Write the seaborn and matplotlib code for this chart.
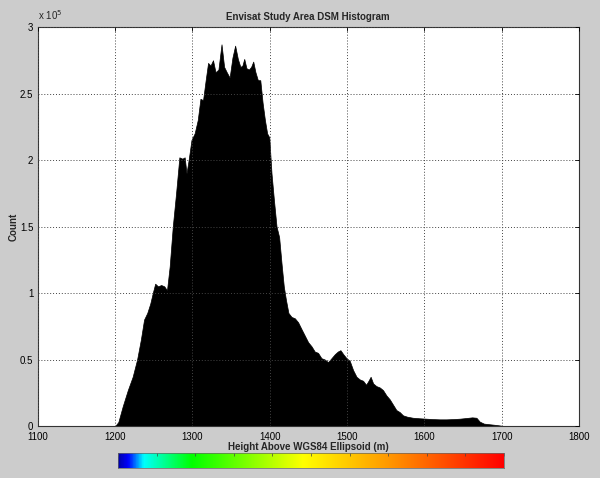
import numpy as np
import pandas as pd
import matplotlib
matplotlib.use("Agg")
import matplotlib.pyplot as plt
import seaborn as sns
from matplotlib.colors import LinearSegmentedColormap
from matplotlib.ticker import FuncFormatter

# Histogram outline (height in m, count per bin)
heights = [1200, 1204, 1210, 1217, 1223, 1229, 1234, 1237.5, 1242, 1246, 1249, 1252,
           1255.5, 1260, 1264, 1267.5, 1270.5, 1275, 1279, 1283.5, 1287.5, 1290.5,
           1292.5, 1295, 1299, 1303, 1307.5, 1310.5, 1314, 1317.5, 1320.5, 1323.5,
           1327, 1330, 1333.5, 1338.5, 1341, 1344.5, 1348.5, 1352, 1355.5, 1359,
           1362.5, 1365, 1367, 1370, 1373.5, 1376, 1379, 1381.5, 1385, 1388, 1391,
           1394, 1397, 1399.5, 1402.5, 1405.5, 1409, 1412.5, 1415.5, 1418.5, 1421,
           1424, 1428.5, 1432.5, 1437, 1441, 1445.5, 1450, 1454, 1458.5, 1462.5,
           1467, 1471.5, 1475.5, 1480, 1484.5, 1488.5, 1491.5, 1495, 1499.5, 1503.5,
           1508, 1512.5, 1516.5, 1521, 1525, 1528, 1530.5, 1533.5, 1538, 1542.5,
           1546.5, 1551, 1555.5, 1559.5, 1564, 1568, 1572.5, 1577, 1585, 1594, 1603,
           1611, 1620, 1628.5, 1637, 1646, 1654, 1663, 1667.5, 1671.5, 1676, 1684.5,
           1693, 1700, 1703]
counts = [0, 3000, 15000, 27000, 37000, 50000, 65000, 80000, 85000, 92000, 100000, 107000,
          105000, 106000, 105000, 102000, 120000, 150000, 175000, 202000, 201000, 202000,
          190000, 200000, 215000, 220000, 230000, 246000, 245000, 260000, 273000, 271000,
          275000, 266000, 268000, 287000, 270000, 266000, 262000, 277000, 286000, 276000,
          270000, 271000, 276000, 269000, 268000, 270000, 274000, 266000, 260000, 260000, 243000,
          230000, 220000, 217000, 190000, 170000, 150000, 142000, 122000, 105000, 95000,
          85000, 82000, 81000, 78000, 73000, 68000, 63000, 60000, 56000, 55000,
          51000, 50000, 48000, 51000, 54000, 56000, 57000, 54000, 51000, 49000,
          42000, 37000, 35000, 34000, 31000, 34000, 37000, 32000, 30000, 29000,
          27000, 23000, 20000, 16000, 12000, 10500, 8000, 7000, 6200, 5800, 5500,
          5200, 5000, 5000, 5200, 5500, 6000, 6500, 6200, 3300, 1800, 1300,
          800, 300, 0]

x_ticks = [1100, 1200, 1300, 1400, 1500, 1600, 1700, 1800]
y_ticks = [0, 50000, 100000, 150000, 200000, 250000, 300000]

title = "Envisat Study Area DSM Histogram"
xlabel = "Height Above WGS84 Ellipsoid (m)"
ylabel = "Count"

sns.set_style("white")
plt.rcParams["font.family"] = ["Liberation Sans", "DejaVu Sans"]

bg = "#cccccc"
fig = plt.figure(figsize=(6.0, 4.78), dpi=100, facecolor=bg)
ax = fig.add_axes([37.5 / 600, 1 - 426 / 478, 541.5 / 600, 399 / 478])
ax.set_facecolor("white")

df = pd.DataFrame({"height": heights, "count": counts})
h = np.array(heights, dtype=float)
edges = np.concatenate([[h[0] - 1], (h[:-1] + h[1:]) / 2, [h[-1] + 1]]).tolist()
sns.histplot(data=df, x="height", weights="count", bins=edges, element="poly", fill=True,
             color="black", alpha=1, linewidth=0.5, edgecolor="black", ax=ax)

ax.set_xlim(1100, 1800)
ax.set_ylim(0, 300000)
ax.set_xticks(x_ticks)
ax.set_yticks(y_ticks)
ax.yaxis.set_major_formatter(FuncFormatter(lambda v, p: f"{v/1e5:g}"))
ax.tick_params(direction="in", length=3, width=0.6, labelsize=7, top=True, right=True,
               colors="black")
ax.tick_params(axis="x", pad=4)
ax.tick_params(axis="y", pad=3)
ax.grid(True, linestyle=(0, (1, 2)), color="#444444", linewidth=0.7)
ax.set_axisbelow(False)
for s in ax.spines.values():
    s.set_linewidth(0.8)
    s.set_color("#333333")

ax.set_title(title, fontsize=7, fontweight="bold", pad=5)
ax.set_xlabel(xlabel, fontsize=7, fontweight="bold", labelpad=0)
ax.set_ylabel(ylabel, fontsize=7, fontweight="bold")
ax.yaxis.set_label_coords(-0.034, 0.5)
ax.text(0.0, 1.012, "x 10$^5$", transform=ax.transAxes, fontsize=7, ha="left", va="bottom")

# colour bar below
cmap = LinearSegmentedColormap.from_list(
    "dsm", [(0.0, "#0000aa"), (0.025, "#0000ff"), (0.065, "#00ffff"), (0.19, "#00ff00"),
            (0.48, "#ffff00"), (0.70, "#ff9900"), (1.0, "#ff0000")])
cax = fig.add_axes([118 / 600, 1 - 468 / 478, 386 / 600, 15.5 / 478])
grad = np.linspace(0, 1, 512).reshape(1, -1)
cax.imshow(grad, aspect="auto", cmap=cmap, extent=[0, 1, 0, 1])
cax.set_xlim(0, 1)
cax.set_ylim(0, 1)
cax.set_xticks(np.linspace(0, 1, 11))
cax.set_yticks([])
cax.tick_params(axis="x", direction="in", length=2, width=0.5, top=True, bottom=False,
                labelbottom=False, labeltop=False, colors="#444444")
for s in cax.spines.values():
    s.set_linewidth(0.5)
    s.set_color("#666666")

fig.savefig("out.png", dpi=100, facecolor=bg)
